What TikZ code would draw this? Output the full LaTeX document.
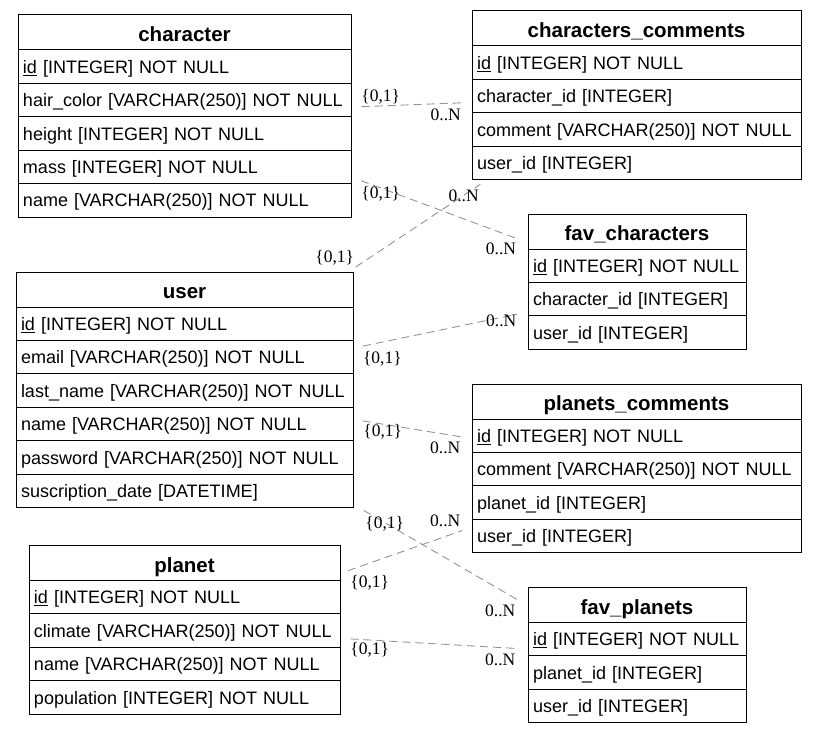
\documentclass[tikz,border=0pt]{standalone}
\usepackage{fontspec}
\setmainfont{Liberation Sans}
\newfontfamily\cardfont{Liberation Serif}
\usetikzlibrary{positioning}

\tikzset{
  tbltitle/.style={rectangle, draw, line width=1pt, outer sep=0pt, anchor=north west, minimum height=35pt, inner sep=0pt, text height=21pt, text depth=2.2pt, font=\fontsize{20.5}{24}\selectfont\bfseries},
  tblrow/.style={rectangle, draw, line width=1pt, outer sep=0pt, minimum height=33.4pt, inner xsep=5pt, inner ysep=0pt, text height=16pt, text depth=2.6pt, align=left, font=\fontsize{18}{21}\selectfont},
  relline/.style={draw=gray!85, line width=0.9pt, dash pattern=on 8pt off 5pt},
  card/.style={inner sep=0pt, font=\fontsize{17.5}{20}\cardfont}
}

\begin{document}
\begin{tikzpicture}[x=1pt, y=-1pt]
    \useasboundingbox (0,0) rectangle (817,733);

    % character
    \node (character) [tbltitle, minimum width=333pt] at (18,15) {character};
    \node (character-id) [tblrow, text width=323pt, below=0pt of character] {\underline{id} [INTEGER] NOT NULL};
    \node (character-hair) [tblrow, text width=323pt, below=0pt of character-id] {hair\_color [VARCHAR(250)] NOT NULL};
    \node (character-height) [tblrow, text width=323pt, below=0pt of character-hair] {height [INTEGER] NOT NULL};
    \node (character-mass) [tblrow, text width=323pt, below=0pt of character-height] {mass [INTEGER] NOT NULL};
    \node (character-name) [tblrow, text width=323pt, below=0pt of character-mass] {name [VARCHAR(250)] NOT NULL};

    % characters_comments
    \node (cc) [tbltitle, minimum width=329pt] at (472,11) {characters\_comments};
    \node (cc-id) [tblrow, text width=319pt, below=0pt of cc] {\underline{id} [INTEGER] NOT NULL};
    \node (cc-charid) [tblrow, text width=319pt, below=0pt of cc-id] {character\_id [INTEGER]};
    \node (cc-comment) [tblrow, text width=319pt, below=0pt of cc-charid] {comment [VARCHAR(250)] NOT NULL};
    \node (cc-userid) [tblrow, text width=319pt, below=0pt of cc-comment] {user\_id [INTEGER]};

    % fav_characters
    \node (favchar) [tbltitle, minimum width=218pt] at (528,214) {fav\_characters};
    \node (favchar-id) [tblrow, text width=208pt, below=0pt of favchar] {\underline{id} [INTEGER] NOT NULL};
    \node (favchar-charid) [tblrow, text width=208pt, below=0pt of favchar-id] {character\_id [INTEGER]};
    \node (favchar-userid) [tblrow, text width=208pt, below=0pt of favchar-charid] {user\_id [INTEGER]};

    % user
    \node (user) [tbltitle, minimum width=337pt] at (16,272) {user};
    \node (user-id) [tblrow, text width=327pt, below=0pt of user] {\underline{id} [INTEGER] NOT NULL};
    \node (user-email) [tblrow, text width=327pt, below=0pt of user-id] {email [VARCHAR(250)] NOT NULL};
    \node (user-last) [tblrow, text width=327pt, below=0pt of user-email] {last\_name [VARCHAR(250)] NOT NULL};
    \node (user-name) [tblrow, text width=327pt, below=0pt of user-last] {name [VARCHAR(250)] NOT NULL};
    \node (user-pass) [tblrow, text width=327pt, below=0pt of user-name] {password [VARCHAR(250)] NOT NULL};
    \node (user-date) [tblrow, text width=327pt, below=0pt of user-pass] {suscription\_date [DATETIME]};

    % planets_comments
    \node (pc) [tbltitle, minimum width=329pt] at (472,384) {planets\_comments};
    \node (pc-id) [tblrow, text width=319pt, below=0pt of pc] {\underline{id} [INTEGER] NOT NULL};
    \node (pc-comment) [tblrow, text width=319pt, below=0pt of pc-id] {comment [VARCHAR(250)] NOT NULL};
    \node (pc-planetid) [tblrow, text width=319pt, below=0pt of pc-comment] {planet\_id [INTEGER]};
    \node (pc-userid) [tblrow, text width=319pt, below=0pt of pc-planetid] {user\_id [INTEGER]};

    % planet
    \node (planet) [tbltitle, minimum width=311pt] at (29,545.5) {planet};
    \node (planet-id) [tblrow, text width=301pt, below=0pt of planet] {\underline{id} [INTEGER] NOT NULL};
    \node (planet-climate) [tblrow, text width=301pt, below=0pt of planet-id] {climate [VARCHAR(250)] NOT NULL};
    \node (planet-name) [tblrow, text width=301pt, below=0pt of planet-climate] {name [VARCHAR(250)] NOT NULL};
    \node (planet-pop) [tblrow, text width=301pt, below=0pt of planet-name] {population [INTEGER] NOT NULL};

    % fav_planets
    \node (favplan) [tbltitle, minimum width=218pt] at (528,587.5) {fav\_planets};
    \node (favplan-id) [tblrow, text width=208pt, below=0pt of favplan] {\underline{id} [INTEGER] NOT NULL};
    \node (favplan-planetid) [tblrow, text width=208pt, below=0pt of favplan-id] {planet\_id [INTEGER]};
    \node (favplan-userid) [tblrow, text width=208pt, below=0pt of favplan-planetid] {user\_id [INTEGER]};

    % relations
    \draw [relline] ([shift={(10.7,6.6)}]character-hair.east) -- ([shift={(-10.3,6.7)}]cc-charid.west)
        node [card, pos=0, shift={(19,-10)}] (rel1-a) {\{0,1\}}
        node [card, pos=1, shift={(-16,12)}] (rel1-b) {0..N};
    \draw [relline] ([shift={(10,13.8)}]character-mass.east) -- ([shift={(-11.3,7)}]favchar.west)
        node [card, pos=0, shift={(19.7,12.6)}] (rel2-a) {\{0,1\}}
        node [card, pos=1, shift={(-15.7,10.7)}] (rel2-b) {0..N};
    \draw [relline] ([shift={(2.7,-5)}]user.north east) -- ([shift={(8.3,4.7)}]cc-userid.south west)
        node [card, pos=0, shift={(-21,-9.4)}] (rel3-a) {\{0,1\}}
        node [card, pos=1, shift={(-16.7,12)}] (rel3-b) {0..N};
    \draw [relline] ([shift={(10,-11)}]user-email.east) -- ([shift={(-11,-18.3)}]favchar-userid.west)
        node [card, pos=0, shift={(19.4,12.3)}] (rel4-a) {\{0,1\}}
        node [card, pos=1, shift={(-15.7,6.7)}] (rel4-b) {0..N};
    \draw [relline] ([shift={(9.7,-3)}]user-name.east) -- ([shift={(-10,1.3)}]pc-id.west)
        node [card, pos=0, shift={(20,11.3)}] (rel5-a) {\{0,1\}}
        node [card, pos=1, shift={(-16.7,10.7)}] (rel5-b) {0..N};
    \draw [relline] ([shift={(10.7,3)}]user-date.south east) -- ([shift={(-11,-5.5)}]favplan.west)
        node [card, pos=0, shift={(21,13)}] (rel6-a) {\{0,1\}}
        node [card, pos=1, shift={(-16.7,11.4)}] (rel6-b) {0..N};
    \draw [relline] ([shift={(8,7.7)}]planet.east) -- ([shift={(-10,-5.3)}]pc-userid.west)
        node [card, pos=0, shift={(21.7,12.3)}] (rel7-a) {\{0,1\}}
        node [card, pos=1, shift={(-16.7,-10)}] (rel7-b) {0..N};
    \draw [relline] ([shift={(10.4,8.3)}]planet-climate.east) -- ([shift={(-11,9.3)}]favplan-id.west)
        node [card, pos=0, shift={(19.3,11)}] (rel8-a) {\{0,1\}}
        node [card, pos=1, shift={(-16.7,11.7)}] (rel8-b) {0..N};
\end{tikzpicture}
\end{document}
